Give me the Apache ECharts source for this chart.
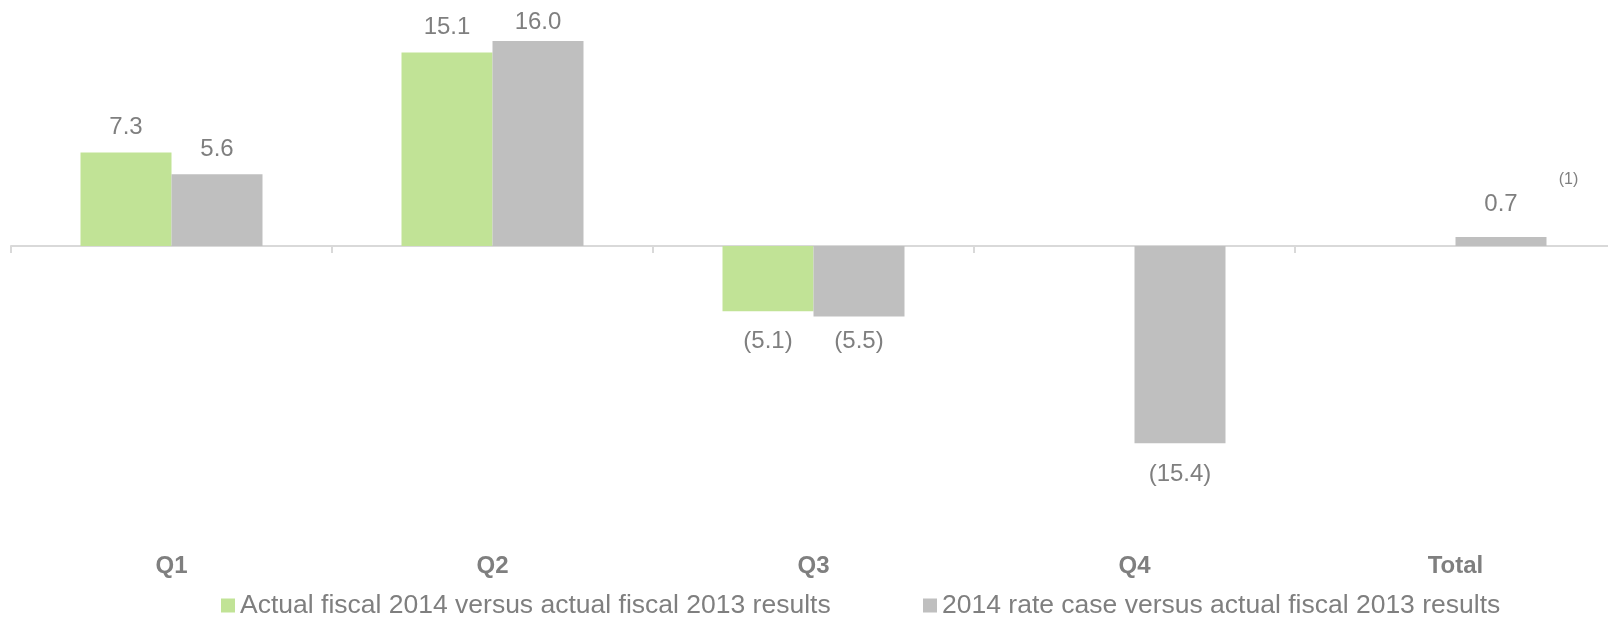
<!DOCTYPE html>
<html>
<head>
<meta charset="utf-8">
<script src="https://cdn.jsdelivr.net/npm/echarts@6/dist/echarts.min.js"></script>
<style>
html,body{margin:0;padding:0;background:#fff;}
#c{width:1608px;height:618px;}
</style>
</head>
<body>
<div id="c"></div>
<script>
// ---- data ----
var categories = ['Q1', 'Q2', 'Q3', 'Q4', 'Total'];
var seriesNames = ['Actual fiscal 2014 versus actual fiscal 2013 results',
                   '2014 rate case versus actual fiscal 2013 results'];
var actualValues = [7.3, 15.1, -5.1, null, null];
var rateCaseValues = [5.6, 16.0, -5.5, -15.4, 0.7];
var footnoteText = '(1)';

// ---- layout / style ----
var TEXT = '#7f7f7f';
var FONT = 'Liberation Sans, Arial, sans-serif';
var colors = ['#c1e396', '#bfbfbf'];
// label distance per series item (layout tuning only)
var labelDist = [[13, 13, 18, 14, 14], [13, 7, 13, 19, 21]];

function fmt(v) {
  return v < 0 ? '(' + Math.abs(v).toFixed(1) + ')' : v.toFixed(1);
}
function build(vals, s) {
  return vals.map(function (v, i) {
    if (v === null) return '-';
    return {
      value: v,
      label: { position: v < 0 ? 'bottom' : 'top', distance: labelDist[s][i] }
    };
  });
}

var chart = echarts.init(document.getElementById('c'));
var legendCommon = {
  top: 592, padding: 0, itemWidth: 14, itemHeight: 14, icon: 'rect',
  textStyle: { color: TEXT, fontFamily: FONT, fontSize: 26.5 }
};
var option = {
  animation: false,
  grid: { left: 11, right: -8, top: 41, bottom: 167, containLabel: false, outerBoundsMode: 'none' },
  xAxis: [
    {
      type: 'category',
      data: categories,
      axisLine: { onZero: true, lineStyle: { color: '#d9d9d9', width: 2 } },
      axisTick: { show: true, length: 7, lineStyle: { color: '#d9d9d9', width: 2 } },
      axisLabel: { show: false },
      splitLine: { show: false }
    },
    {
      type: 'category',
      data: categories,
      position: 'bottom',
      axisLine: { show: false, onZero: false },
      axisTick: { show: false },
      axisLabel: { margin: 103, color: TEXT, fontFamily: FONT, fontSize: 24, fontWeight: 'bold' },
      splitLine: { show: false }
    }
  ],
  yAxis: {
    type: 'value', min: -16, max: 16, show: false,
    splitLine: { show: false }
  },
  legend: [
    Object.assign({ data: [seriesNames[0]], left: 221 }, legendCommon),
    Object.assign({ data: [seriesNames[1]], left: 923 }, legendCommon)
  ],
  series: [
    {
      name: seriesNames[0], type: 'bar', data: build(actualValues, 0),
      barWidth: 91, barGap: '0%',
      itemStyle: { color: colors[0] },
      label: { show: true, color: TEXT, fontFamily: FONT, fontSize: 24,
               formatter: function (p) { return fmt(p.value); } }
    },
    {
      name: seriesNames[1], type: 'bar', data: build(rateCaseValues, 1),
      barWidth: 91, barGap: '0%',
      itemStyle: { color: colors[1] },
      label: { show: true, color: TEXT, fontFamily: FONT, fontSize: 24,
               formatter: function (p) { return fmt(p.value); } }
    }
  ]
};
chart.setOption(option);

// footnote marker next to the Total label
var p = chart.convertToPixel({ gridIndex: 0 }, ['Total', rateCaseValues[4]]);
chart.setOption({
  graphic: [{
    type: 'text', x: p[0] + 113, y: p[1] - 57,
    style: { text: footnoteText, fill: TEXT, font: '16px ' + FONT, align: 'center', verticalAlign: 'middle' }
  }]
});
</script>
</body>
</html>
